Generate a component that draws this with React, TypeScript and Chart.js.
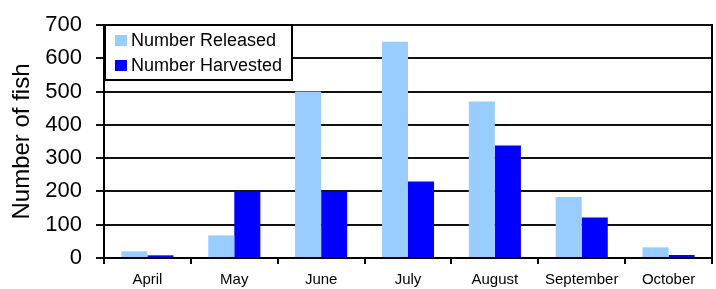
import React, { useEffect, useRef } from "react";
import { Chart, registerables } from "chart.js";

Chart.register(...registerables);

const categories = ["April", "May", "June", "July", "August", "September", "October"];
const released = [20, 68, 500, 650, 470, 183, 32];
const harvested = [8, 200, 200, 230, 338, 122, 9];
const seriesNames = ["Number Released", "Number Harvested"];
const seriesColors = ["#99CCFF", "#0000FF"];
const yTitle = "Number of fish";

const FONT = "Arial, 'Liberation Sans', sans-serif";

const framePlugin = {
  id: "frameAndLegend",
  afterDraw(chart: any) {
    const { ctx, chartArea } = chart;
    ctx.save();
    ctx.strokeStyle = "#000";
    ctx.lineWidth = 2;
    ctx.beginPath();
    ctx.moveTo(chartArea.right, chartArea.top - 1);
    ctx.lineTo(chartArea.right, chartArea.bottom + 1);
    ctx.stroke();
    const bx = chartArea.left + 1;
    const by = chartArea.top;
    const bw = 187;
    const bh = 55;
    ctx.fillStyle = "#fff";
    ctx.fillRect(bx, by, bw, bh);
    ctx.strokeRect(bx, by, bw, bh);
    ctx.font = `18px ${FONT}`;
    ctx.textBaseline = "middle";
    ctx.textAlign = "left";
    seriesNames.forEach((name, i) => {
      const cy = by + 15 + i * 25;
      ctx.fillStyle = seriesColors[i];
      ctx.fillRect(bx + 10, cy - 5, 12, 11);
      ctx.fillStyle = "#000";
      ctx.fillText(name, bx + 26, cy + 1);
    });
    ctx.restore();
  },
};

export default function App() {
  const ref = useRef<HTMLCanvasElement>(null);
  useEffect(() => {
    document.body.style.margin = "0";
    const chart = new Chart(ref.current!, {
      type: "bar",
      data: {
        labels: categories,
        datasets: [
          { label: seriesNames[0], data: released, backgroundColor: seriesColors[0], barPercentage: 1.0, categoryPercentage: 0.6 },
          { label: seriesNames[1], data: harvested, backgroundColor: seriesColors[1], barPercentage: 1.0, categoryPercentage: 0.6 },
        ],
      },
      options: {
        responsive: false,
        animation: false,
        layout: { padding: { top: 25, right: 4, left: 0, bottom: 0 } },
        plugins: { legend: { display: false }, tooltip: { enabled: false } },
        scales: {
          x: {
            offset: true,
            grid: { offset: true, drawOnChartArea: false, drawTicks: true, tickLength: 6, color: "#000", lineWidth: 2 },
            border: { color: "#000", width: 2 },
            ticks: { font: { family: FONT, size: 15 }, color: "#000", padding: 7, maxRotation: 0 },
            afterFit: (s: any) => { s.height = 31; s.paddingLeft = 0; s.paddingRight = 0; },
          },
          y: {
            min: 0,
            max: 700,
            ticks: { stepSize: 100, font: { family: FONT, size: 22 }, color: "#000", padding: 14 },
            grid: { color: "#111", lineWidth: 2, tickLength: 8 },
            border: { color: "#000", width: 2 },
            title: { display: true, text: yTitle, font: { family: FONT, size: 24 }, color: "#000", padding: { top: 8, bottom: 0 } },
            afterFit: (s: any) => { s.width = 104; s.paddingTop = 0; s.paddingBottom = 0; },
          },
        },
      },
      plugins: [framePlugin],
    });
    return () => chart.destroy();
  }, []);
  return <canvas ref={ref} width={716} height={289} />;
}
